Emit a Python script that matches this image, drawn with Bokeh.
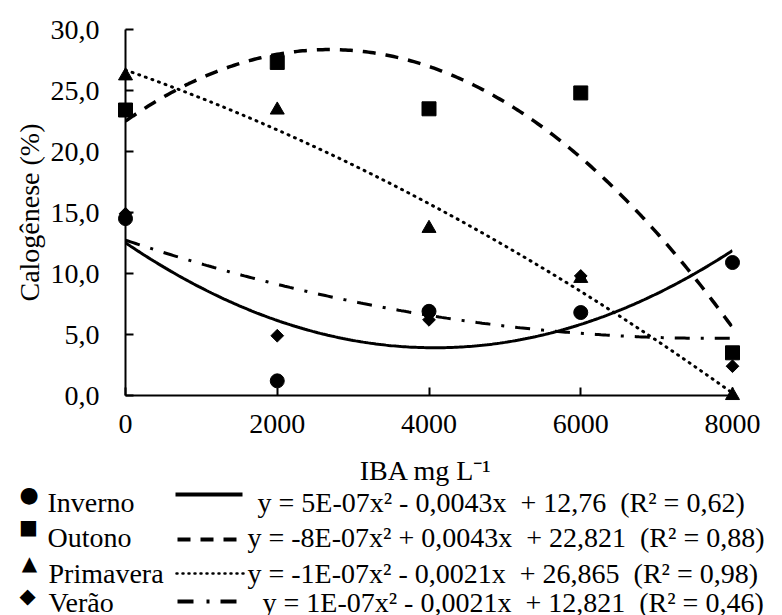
import numpy as np
from bokeh.plotting import figure
from bokeh.models import Range1d, FixedTicker
from bokeh.embed import file_html
from bokeh.resources import INLINE
from bokeh.core.properties import value

# ---------------- data ----------------
doses = [0, 2000, 4000, 6000, 8000]
inverno = [14.5, 1.2, 6.9, 6.8, 10.9]
outono = [23.4, 27.3, 23.5, 24.8, 3.5]
primavera = [26.2, 23.4, 13.7, 9.6, 0.0]
verao = [14.9, 4.9, 6.2, 9.8, 2.4]

series_names = ["Inverno", "Outono", "Primavera", "Verão"]
series_symbols = ["●", "■", "▲", "◆"]
equations = [
    "y = 5E-07x² - 0,0043x\u00a0 + 12,76\u00a0 (R² = 0,62)",
    "y = -8E-07x² + 0,0043x\u00a0 + 22,821\u00a0 (R² = 0,88)",
    "y = -1E-07x² - 0,0021x\u00a0 + 26,865\u00a0 (R² = 0,98)",
    "y = 1E-07x² - 0,0021x\u00a0 + 12,821\u00a0 (R² = 0,46)",
]
x_ticks = [0, 2000, 4000, 6000, 8000]
x_tick_labels = ["0", "2000", "4000", "6000", "8000"]
y_ticks = [0, 5, 10, 15, 20, 25, 30]
y_tick_labels = ["0,0", "5,0", "10,0", "15,0", "20,0", "25,0", "30,0"]
y_title = "Calogênese (%)"
x_title = "IBA mg L⁻¹"

FONT = "Times New Roman"
FS = "28px"

# ---------------- chart ----------------
p = figure(width=782, height=615, x_range=Range1d(0, 8000), y_range=Range1d(0, 30),
           output_backend="svg", toolbar_location=None,
           min_border_left=125, min_border_right=50, min_border_top=29, min_border_bottom=220)
p.outline_line_color = None
p.grid.visible = False
p.background_fill_color = "white"
p.border_fill_color = "white"
# pixel-like helper ranges (frame 125..732 x 395..29) for the legend drawn below the axes
p.extra_x_ranges = {"px": Range1d(125, 732)}
p.extra_y_ranges = {"py": Range1d(395, 29)}

for ax in (p.xaxis[0], p.yaxis[0]):
    ax.major_tick_in = 8
    ax.major_tick_out = 0
    ax.minor_tick_in = 0
    ax.minor_tick_out = 0
    ax.axis_line_width = 2
    ax.axis_line_color = "black"
    ax.major_tick_line_width = 2
    ax.major_tick_line_color = "black"
    ax.major_label_text_font = FONT
    ax.major_label_text_font_size = FS
    ax.major_label_text_color = "black"

p.xaxis[0].ticker = FixedTicker(ticks=x_ticks)
p.xaxis[0].major_label_overrides = {t: l for t, l in zip(x_ticks, x_tick_labels)}
p.xaxis[0].major_label_standoff = 19

p.yaxis[0].ticker = FixedTicker(ticks=y_ticks)
p.yaxis[0].major_label_overrides = {t: l for t, l in zip(y_ticks, y_tick_labels)}
p.yaxis[0].major_label_standoff = 26
p.yaxis[0].axis_label = y_title
p.yaxis[0].axis_label_text_font = FONT
p.yaxis[0].axis_label_text_font_size = FS
p.yaxis[0].axis_label_text_font_style = "normal"
p.yaxis[0].axis_label_text_color = "black"
p.yaxis[0].axis_label_standoff = 3

styles = [
    dict(line_width=3, line_dash="solid"),
    dict(line_width=3.5, line_dash="13 10"),
    dict(line_width=3, line_dash="1 6", line_cap="round"),
    dict(line_width=3, line_dash="15 11 3 11"),
]
markers = [
    dict(marker="circle", size=14, angle=0),
    dict(marker="square", size=14, angle=0),
    dict(marker="triangle", size=14, angle=0),
    dict(marker="square", size=9, angle=np.pi / 4),
]
all_series = [inverno, outono, primavera, verao]

xs = np.linspace(0, 8000, 241)
for vals, st in zip(all_series, styles):
    coef = np.polyfit(doses, vals, 2)
    p.line(xs, np.polyval(coef, xs), line_color="black", **st)

for vals, mk in zip(all_series, markers):
    p.scatter(doses, vals, marker=mk["marker"], size=mk["size"], angle=mk["angle"],
              fill_color="black", line_color="black", level="overlay")

# ---------------- legend / x title (overlay, pixel ranges) ----------------
PX = dict(x_range_name="px", y_range_name="py", level="overlay")

def ptext(x, y, t, size=FS, font=FONT, align="left", baseline="alphabetic"):
    p.text(x=[x], y=[y], text=[t], text_font=value(font), text_font_size=size,
           text_baseline=baseline, text_align=align, text_color="black", **PX)

ptext(425.5, 470, x_title, align="center")

row_base = [502, 537, 573, 602]
name_x = [47, 47, 48, 48]
eq_x = [257, 247, 247, 262]
sym_xy = [(28.5, 494), (28, 526.5), (29, 562), (27, 595.5)]
sym_sizes = ["22px", "20px", "20px", "21px"]
line_y = [494, 539, 573, 601]
line_x = [(175, 242), (177, 240), (176, 245), (177, 237)]
leg_styles = [
    dict(line_width=4, line_dash="solid"),
    dict(line_width=4, line_dash="13 10"),
    dict(line_width=2.5, line_dash="1 5", line_cap="round"),
    dict(line_width=4, line_dash="16 13 3 11"),
]

for i in range(4):
    ptext(sym_xy[i][0], sym_xy[i][1], series_symbols[i], size=sym_sizes[i],
          font="DejaVu Sans", align="center", baseline="middle")
    ptext(name_x[i], row_base[i], series_names[i])
    p.line(list(line_x[i]), [line_y[i], line_y[i]], line_color="black", **leg_styles[i], **PX)
    ptext(eq_x[i], row_base[i], equations[i])

open("out.html", "w").write(file_html(p, INLINE))
